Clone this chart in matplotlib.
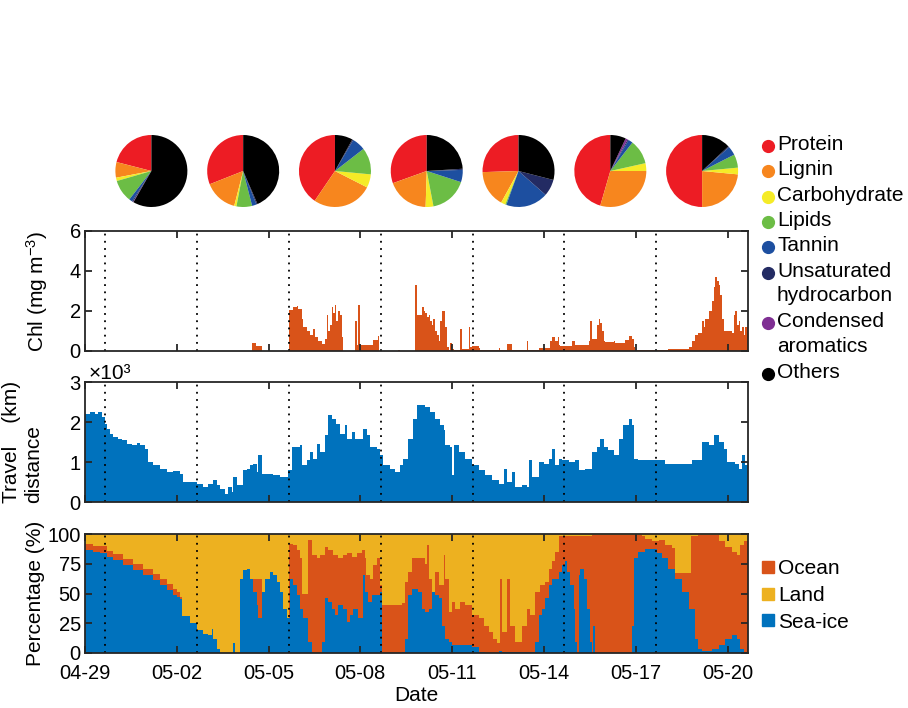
import numpy as np
import matplotlib.pyplot as plt
from matplotlib.lines import Line2D

plt.rcParams['font.family'] = ['Liberation Sans', 'DejaVu Sans']
plt.rcParams['mathtext.default'] = 'regular'

# time axis: days since 04-29 00:00
tick_days = [0, 3, 6, 9, 12, 15, 18, 21]
tick_labels = ['04-29', '05-02', '05-05', '05-08', '05-11', '05-14', '05-17', '05-20']
t_end = 21.67

# start of each sampling segment (dotted lines); one pie per segment
segment_starts = [0.67, 3.67, 6.67, 9.67, 12.67, 15.67, 18.67]

# molecular composition (%) per segment
classes = ['Protein', 'Lignin', 'Carbohydrate', 'Lipids', 'Tannin',
           'Unsaturated\nhydrocarbon', 'Condensed\naromatics', 'Others']
class_colors = ['#ED1C24', '#F7861E', '#F5EB27', '#6CBD45', '#1D4FA0',
                '#232B63', '#7F2F93', '#000000']
pie_fracs = [
    [21, 7, 1.5, 10, 1.5, 0.5, 0.2, 58.3],
    [31, 15, 1, 7, 2, 0.5, 0, 43.5],
    [40.5, 27, 6, 12, 6, 0.5, 0, 8],
    [30.5, 19, 3.5, 17, 5.5, 0.5, 0, 24],
    [25.5, 16.5, 2, 0.5, 19, 7.5, 0, 29],
    [45.5, 29.5, 3.5, 11, 2, 0.5, 1, 7],
    [50, 23.5, 3, 6, 4, 0.5, 0, 13],
]

# chlorophyll (mg m-3): (day, value)
chl = [(0, 0), (5.45, 0.38), (5.6, 0.25), (5.77, 0), (6.67, 2.05), (6.8, 2.2),
       (6.92, 2.25), (6.97, 2.1), (7.08, 1.6), (7.14, 1.2), (7.24, 1.0), (7.35, 0.8),
       (7.46, 1.1), (7.52, 0.7), (7.63, 0.5), (7.73, 0.35), (7.84, 0.6), (7.9, 1.8),
       (7.95, 1.0), (8.01, 1.3), (8.06, 2.2), (8.12, 1.9), (8.17, 2.3), (8.22, 1.5),
       (8.28, 2.0), (8.33, 1.8), (8.39, 0.7), (8.44, 0), (8.82, 1.5), (8.9, 0.3),
       (8.93, 2.3), (8.99, 0.3), (9.42, 0.55), (9.59, 0.75), (9.62, 0), (10.24, 0.05),
       (10.29, 0), (10.78, 3.3), (10.85, 1.8), (11.01, 2.2), (11.07, 2.0), (11.12, 1.9),
       (11.18, 1.7), (11.23, 1.8), (11.29, 1.5), (11.34, 1.3), (11.39, 1.6), (11.45, 1.0),
       (11.5, 0.8), (11.56, 0.5), (11.61, 1.5), (11.67, 2.0), (11.78, 1.2), (11.83, 0.2),
       (11.89, 0.05), (11.94, 0.4), (11.99, 0.1), (12.05, 0.05), (12.27, 1.1), (12.32, 0.1),
       (12.54, 1.2), (12.59, 0.2), (12.65, 0.25), (12.87, 0.15), (12.92, 0.05), (13.52, 0.15),
       (13.57, 0.05), (13.79, 0.35), (13.95, 0.05), (14.44, 0.5), (14.48, 0.05), (14.83, 0.15),
       (15.21, 0.5), (15.26, 0.7), (15.37, 0.5), (15.45, 0.7), (15.48, 0.3), (15.53, 0.25),
       (15.92, 0.5), (16.02, 0.3), (16.46, 0.5), (16.51, 1.5), (16.57, 0.6), (16.73, 1.3),
       (16.79, 1.6), (16.84, 1.4), (16.9, 1.0), (16.95, 0.5), (17.0, 0.45), (17.28, 0.5),
       (17.33, 0.4), (17.66, 0.55), (17.77, 0.75), (17.88, 0.6), (17.93, 0.2), (17.99, 0.05),
       (19.07, 0.1), (19.73, 0.2), (19.84, 0.5), (19.95, 0.8), (20.05, 0.9), (20.16, 1.5),
       (20.22, 1.2), (20.27, 1.6), (20.38, 2.0), (20.49, 2.5), (20.55, 3.2), (20.6, 3.7),
       (20.65, 3.5), (20.71, 3.3), (20.76, 2.8), (20.82, 1.6), (20.87, 1.0), (21.04, 1.0),
       (21.14, 0.9), (21.2, 1.8), (21.25, 2.0), (21.31, 1.3), (21.36, 1.5), (21.42, 1.0),
       (21.47, 1.2), (21.53, 0.8), (21.58, 1.2), (21.67, 1.2)]

# air-mass travel distance (x10^3 km): (day, value)
travel = [(0, 2.2), (0.16, 2.25), (0.33, 2.2), (0.44, 2.25), (0.55, 2.12), (0.65, 1.96),
          (0.71, 1.83), (0.82, 1.7), (0.93, 1.62), (1.09, 1.58), (1.2, 1.54), (1.36, 1.46),
          (1.53, 1.42), (1.69, 1.48), (1.8, 1.42), (1.96, 1.33), (2.07, 1.0), (2.23, 0.92),
          (2.45, 0.83), (2.67, 0.75), (2.89, 0.77), (3.1, 0.71), (3.21, 0.5), (3.43, 0.5),
          (3.65, 0.46), (3.87, 0.38), (4.03, 0.46), (4.19, 0.54), (4.3, 0.42), (4.41, 0.33),
          (4.58, 0.21), (4.68, 0.38), (4.79, 0.25), (4.85, 0.62), (4.96, 0.42), (5.17, 0.79),
          (5.28, 0.83), (5.39, 0.92), (5.5, 0.96), (5.61, 0.75), (5.66, 1.17), (5.77, 0.71),
          (5.94, 0.71), (6.16, 0.67), (6.37, 0.62), (6.54, 0.62), (6.65, 0.79), (6.75, 1.37),
          (7.03, 1.42), (7.08, 0.92), (7.24, 1.04), (7.35, 1.25), (7.46, 1.08), (7.57, 1.46),
          (7.68, 1.25), (7.84, 1.67), (7.95, 2.17), (8.06, 2.08), (8.22, 1.96), (8.33, 1.71),
          (8.5, 1.92), (8.55, 1.58), (8.72, 1.75), (8.82, 1.58), (8.93, 1.58), (9.1, 1.83),
          (9.21, 1.67), (9.31, 1.37), (9.53, 1.32), (9.64, 1.17), (9.75, 0.92), (9.97, 0.83),
          (10.13, 0.75), (10.29, 0.92), (10.4, 1.08), (10.57, 1.58), (10.73, 2.08), (10.84, 2.42),
          (11.01, 2.42), (11.12, 2.38), (11.29, 2.25), (11.45, 2.08), (11.61, 1.92), (11.72, 1.79),
          (11.78, 1.42), (11.94, 1.37), (11.99, 0.67), (12.05, 1.42), (12.21, 1.25), (12.43, 1.08),
          (12.65, 0.92), (12.87, 0.79), (13.08, 0.67), (13.3, 0.54), (13.52, 0.46), (13.68, 0.83),
          (13.79, 0.5), (13.95, 0.75), (14.06, 0.38), (14.28, 0.42), (14.44, 0.38), (14.5, 1.04),
          (14.61, 0.62), (14.83, 1.0), (14.99, 0.96), (15.15, 1.08), (15.26, 1.33), (15.37, 0.92),
          (15.48, 1.08), (15.59, 1.04), (15.81, 1.0), (16.02, 1.04), (16.13, 0.79), (16.35, 0.83),
          (16.57, 1.25), (16.73, 1.37), (16.84, 1.58), (16.95, 1.37), (17.11, 1.29), (17.28, 1.17),
          (17.44, 1.58), (17.6, 1.92), (17.77, 2.08), (17.88, 1.92), (17.93, 1.08), (18.09, 1.06),
          (18.53, 1.04), (18.97, 0.96), (19.4, 0.96), (19.84, 1.04), (20.16, 1.5), (20.38, 1.42),
          (20.55, 1.67), (20.71, 1.5), (20.87, 1.33), (20.98, 1.0), (21.25, 0.96), (21.36, 0.83),
          (21.47, 1.17), (21.58, 0.92), (21.67, 0.92)]

# sea-ice share of air-mass exposure (%): (day, value)
seaice_pct = [(0, 86.5), (0.27, 85), (0.49, 84), (0.71, 81), (0.93, 78), (1.25, 74), (1.58, 70),
              (1.91, 65.5), (2.23, 61), (2.45, 57), (2.67, 53), (2.89, 49), (3.0, 47), (3.1, 45),
              (3.17, 31), (3.43, 25), (3.65, 19), (3.87, 16), (4.03, 15), (4.14, 20.5), (4.19, 12),
              (4.3, 3.7), (4.41, 0), (4.85, 8), (4.9, 0), (5.07, 62.6), (5.17, 70), (5.28, 71),
              (5.39, 62.6), (5.5, 51), (5.61, 40), (5.66, 29), (5.77, 51), (5.88, 62.6), (6.05, 68),
              (6.15, 65.5), (6.26, 60), (6.37, 51), (6.48, 37), (6.59, 29), (6.7, 62.6), (6.81, 57),
              (6.92, 48.6), (7.03, 37), (7.14, 29), (7.3, 9), (7.41, 1), (7.46, 0), (7.73, 9),
              (7.84, 46), (7.95, 43), (8.06, 37), (8.17, 32), (8.28, 40), (8.44, 37), (8.55, 26),
              (8.66, 32), (8.77, 37), (8.93, 29), (9.1, 65.5), (9.15, 51), (9.26, 43), (9.37, 48.6),
              (9.64, 51), (9.7, 0), (10.35, 1), (10.46, 12), (10.57, 48.6), (10.68, 54), (10.9, 51),
              (11.01, 37), (11.12, 34.5), (11.23, 37), (11.34, 51), (11.45, 48.6), (11.56, 46),
              (11.67, 23), (11.78, 12), (11.89, 9), (11.99, 6.5), (12.65, 5), (12.87, 1), (13.08, 0),
              (13.52, 2), (13.63, 1), (14.72, 9), (14.83, 32), (14.94, 37), (15.04, 46), (15.15, 57),
              (15.26, 62.6), (15.48, 68), (15.59, 74), (15.68, 77), (15.75, 68), (15.86, 57),
              (15.97, 37), (16.02, 9), (16.08, 0), (16.13, 65.5), (16.19, 71), (16.3, 62.6),
              (16.41, 37), (16.51, 9), (16.57, 0), (16.62, 23), (16.68, 0), (17.88, 23), (17.93, 79.5),
              (18.09, 85), (18.31, 87), (18.53, 87.5), (18.69, 84), (18.86, 79.5), (19.07, 71),
              (19.29, 62.6), (19.51, 51), (19.73, 37), (19.95, 12), (20.05, 3.7), (20.16, 2),
              (20.49, 3.7), (20.71, 6.5), (20.93, 12), (21.14, 15), (21.31, 12), (21.42, 3.7),
              (21.53, 1), (21.67, 1)]

# sea-ice + ocean share (%); land makes up the rest to 100
ocean_cum_pct = [(0, 92), (0.27, 90), (0.71, 86), (0.93, 83), (1.25, 79), (1.58, 75), (1.91, 70.5),
                 (2.23, 66), (2.45, 62), (2.67, 58), (2.89, 54), (3.0, 51), (3.1, 47), (3.17, 0),
                 (5.5, 62), (5.77, 0), (6.67, 92), (6.81, 91), (6.92, 86.5),
                 (7.03, 79.5), (7.08, 50), (7.3, 95), (7.41, 82), (7.57, 79.5), (7.68, 82),
                 (7.84, 89), (7.95, 86.5), (8.11, 82), (8.28, 79.5), (8.44, 82), (8.55, 84),
                 (8.72, 81), (8.88, 84), (9.04, 86.5), (9.15, 79.5), (9.2, 65.5), (9.31, 62.6),
                 (9.42, 74), (9.53, 79.5), (9.64, 57), (9.7, 40), (10.35, 42), (10.46, 60),
                 (10.57, 68), (10.68, 79.5), (10.8, 79.5), (11.1, 75), (11.17, 91), (11.23, 62.6),
                 (11.34, 51), (11.45, 68), (11.56, 57), (11.72, 82), (11.78, 62.6), (11.89, 34.5),
                 (11.99, 43), (12.1, 37), (12.26, 43), (12.43, 40), (12.65, 32), (12.87, 29),
                 (13.03, 23), (13.19, 17.7), (13.35, 12), (13.46, 8), (13.57, 62.6), (13.63, 17.7),
                 (13.79, 62.6), (13.9, 23), (14.06, 9), (14.28, 23), (14.44, 37), (14.55, 32),
                 (14.72, 51), (14.88, 57), (15.04, 60), (15.15, 71), (15.26, 77), (15.37, 85),
                 (15.48, 98), (16.57, 99), (18.2, 98), (18.31, 96), (18.53, 94), (18.75, 95),
                 (18.97, 91), (19.18, 88), (19.29, 67), (19.81, 98), (20.05, 99), (20.71, 94),
                 (20.93, 89), (21.14, 85), (21.31, 82), (21.42, 91), (21.53, 94), (21.67, 94)]

c_ocean, c_land, c_ice = '#D95319', '#EDB120', '#0072BD'

fig = plt.figure(figsize=(9.08, 7.08), dpi=100)
W, H = 908, 708
left, width = 85 / W, 663 / W
ax_chl = fig.add_axes([left, 1 - 351 / H, width, 120 / H])
ax_trv = fig.add_axes([left, 1 - 502 / H, width, 120 / H])
ax_pct = fig.add_axes([left, 1 - 653 / H, width, 119 / H])

t, v = np.array(chl).T
ax_chl.fill_between(t, v, step='post', color=c_ocean, lw=0)
ax_chl.set_ylim(0, 6)
ax_chl.set_yticks([0, 2, 4, 6])
ax_chl.set_ylabel('Chl (mg m$^{-3}$)', fontsize=15)
ax_chl.yaxis.set_label_coords(-0.053, 0.5)

t, v = np.array(travel).T
ax_trv.fill_between(t, v, step='post', color=c_ice, lw=0)
ax_trv.set_ylim(0, 3)
ax_trv.set_yticks([0, 1, 2, 3])
ax_trv.set_ylabel('Travel    (km)\ndistance', fontsize=15, multialignment='left')
ax_trv.yaxis.set_label_coords(-0.063, 0.5)
ax_trv.text(0.005, 0.99, '×10³', transform=ax_trv.transAxes, fontsize=15,
            ha='left', va='bottom')

ax_pct.axhspan(0, 100, color=c_land, lw=0)
t, v = np.array(ocean_cum_pct).T
ax_pct.fill_between(t, v, step='post', color=c_ocean, lw=0)
t, v = np.array(seaice_pct).T
ax_pct.fill_between(t, v, step='post', color=c_ice, lw=0)
ax_pct.set_ylim(0, 100)
ax_pct.set_yticks([0, 25, 50, 75, 100])
ax_pct.set_ylabel('Percentage (%)', fontsize=15)
ax_pct.yaxis.set_label_coords(-0.06, 0.5)
ax_pct.set_xlabel('Date', fontsize=15, labelpad=2)

for ax in (ax_chl, ax_trv, ax_pct):
    ax.set_xlim(0, t_end)
    ax.set_xticks(tick_days)
    ax.set_xticklabels(tick_labels)
    for d in segment_starts:
        ax.axvline(d, color='k', ls=(0, (1, 3)), lw=1.3, zorder=3)
    ax.tick_params(direction='in', top=True, right=True, length=5, width=1.3,
                   labelsize=14.5, color='#262626')
    ax.tick_params(axis='x', pad=8)
    ax.tick_params(axis='y', pad=3)
    for s in ax.spines.values():
        s.set_linewidth(1.3)
        s.set_color('#262626')
        s.set_zorder(4)
for ax in (ax_chl, ax_trv):
    ax.tick_params(labelbottom=False)

# composition pies above the chlorophyll panel, one per segment
for start, fr in zip(segment_starts, pie_fracs):
    mid = start + 1.5
    pax = ax_chl.inset_axes([mid - 1.2, 1.2, 2.4, 0.6],
                            transform=ax_chl.get_xaxis_transform())
    pax.pie(fr, colors=class_colors, startangle=90, counterclock=True,
            wedgeprops=dict(linewidth=0))
    pax.set_xlim(-1, 1)
    pax.set_ylim(-1, 1)
    pax.set_aspect('equal')
    pax.axis('off')

# legend for the pie classes, one marker per class, labels may wrap
row = 0
for name, c in zip(classes, class_colors):
    y = 1 - (146 + 25.3 * row) / H
    fig.add_artist(Line2D([768 / W], [y], transform=fig.transFigure, marker='o',
                          ls='none', color=c, markersize=8.5))
    fig.text(777 / W, y + 11 / H, name, fontsize=15, va='top', ha='left',
             linespacing=1.38)
    row += name.count('\n') + 1

# legend for the air-mass source areas
for i, (name, c) in enumerate(zip(['Ocean', 'Land', 'Sea-ice'], [c_ocean, c_land, c_ice])):
    y = 1 - (567 + 26.5 * i) / H
    fig.add_artist(Line2D([768 / W], [y], transform=fig.transFigure, marker='s',
                          ls='none', color=c, markersize=9))
    fig.text(778 / W, y, name, fontsize=15, va='center_baseline', ha='left')

fig.savefig('out.png', dpi=100)
